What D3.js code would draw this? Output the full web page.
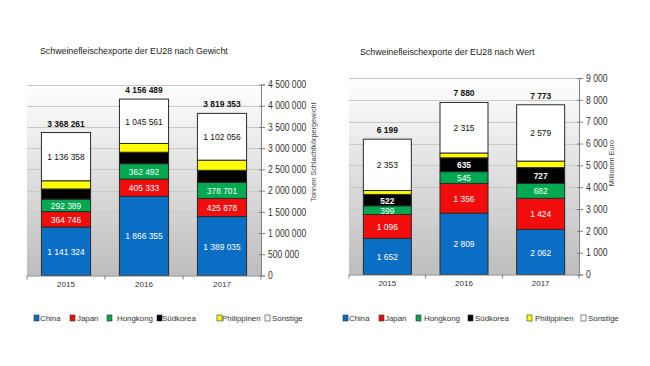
<!DOCTYPE html>
<html>
<head>
<meta charset="utf-8">
<script src="https://cdn.jsdelivr.net/npm/d3@7"></script>
<style>
  html, body { margin: 0; padding: 0; background: #ffffff; }
  svg { display: block; }
</style>
</head>
<body>
<svg id="chart" width="650" height="366"></svg>
<script>
// ---------- DATA ----------
const years = ["2015", "2016", "2017"];
const seriesNames = ["China", "Japan", "Hongkong", "Südkorea", "Philippinen", "Sonstige"];
const seriesColors = ["#0a6ec4", "#f20d0d", "#00a84f", "#000000", "#ffff00", "#ffffff"];

// Weight (Tonnen Schlachtkörpergewicht)
const weightChina = [1141324, 1866355, 1389035];
const weightJapan = [364746, 405333, 425878];
const weightHongkong = [292389, 362492, 378701];
const weightSuedkorea = [240000, 270000, 285000];
const weightPhilippinen = [193444, 206748, 238683];
const weightSonstige = [1136358, 1045561, 1102056];
const weightTotals = [3368261, 4156489, 3819353];
const weightTicks = [0, 500000, 1000000, 1500000, 2000000, 2500000, 3000000, 3500000, 4000000, 4500000];

// Value (Millionen Euro)
const valueChina = [1652, 2809, 2062];
const valueJapan = [1096, 1356, 1424];
const valueHongkong = [399, 545, 682];
const valueSuedkorea = [522, 635, 727];
const valuePhilippinen = [177, 220, 299];
const valueSonstige = [2353, 2315, 2579];
const valueTotals = [6199, 7880, 7773];
const valueTicks = [0, 1000, 2000, 3000, 4000, 5000, 6000, 7000, 8000, 9000];

// ---------- HELPERS ----------
const loc = d3.formatLocale({ decimal: ",", thousands: "\u2009", grouping: [3], currency: ["", " €"] });
const fmt = v => loc.format(",")(v).replace(/\u2009/g, " ");

const svg = d3.select("#chart");
const defs = svg.append("defs");
const grad = defs.append("linearGradient").attr("id", "bg").attr("x1", 0).attr("y1", 0).attr("x2", 0).attr("y2", 1);
grad.append("stop").attr("offset", "0%").attr("stop-color", "#ffffff");
grad.append("stop").attr("offset", "100%").attr("stop-color", "#bdbdbd");

const textFont = "'Liberation Sans', Arial, sans-serif";
const SX = 0.86; // horizontal condensing to mimic a narrow (Calibri-like) face

function drawChart(cfg) {
  const g = svg.append("g");
  const x = d3.scaleBand().domain(years).range([cfg.x0, cfg.x1]).paddingInner(cfg.padIn).paddingOuter(cfg.padIn / 2);
  const y = d3.scaleLinear().domain([0, cfg.ticks[cfg.ticks.length - 1]]).range([cfg.yBottom, cfg.yTop]);

  // title
  g.append("text").attr("x", cfg.titleX).attr("y", cfg.titleY)
    .attr("font-family", textFont).attr("font-size", 8.8).attr("fill", "#222")
    .text(cfg.title);

  // plot background
  g.append("rect").attr("x", cfg.x0).attr("y", y.range()[1])
    .attr("width", cfg.x1 - cfg.x0).attr("height", y.range()[0] - y.range()[1])
    .attr("fill", "url(#bg)");

  // gridlines
  g.append("g").selectAll("line").data(cfg.ticks.filter(t => t > 0)).join("line")
    .attr("x1", cfg.x0).attr("x2", cfg.x1)
    .attr("y1", d => Math.round(y(d)) + 0.5).attr("y2", d => Math.round(y(d)) + 0.5)
    .attr("stroke", "#c8c8c8").attr("stroke-width", 1);

  // stacked data
  const rows = years.map((yr, i) => {
    const r = { year: yr };
    seriesNames.forEach((s, k) => r[s] = cfg.series[k][i]);
    return r;
  });
  const stack = d3.stack().keys(seriesNames)(rows);

  const layers = g.append("g").selectAll("g").data(stack).join("g")
    .attr("fill", (d, k) => seriesColors[k]);
  layers.selectAll("rect").data(d => d).join("rect")
    .attr("x", d => x(d.data.year))
    .attr("width", x.bandwidth())
    .attr("y", d => y(d[1]))
    .attr("height", d => y(d[0]) - y(d[1]))
    .attr("stroke", "#2a2a2a").attr("stroke-width", 1);

  // segment labels
  stack.forEach((layer, k) => {
    if (!cfg.labelSeries.includes(seriesNames[k])) return;
    g.append("g").selectAll("text").data(layer).join("text")
      .attr("transform", d => `translate(${x(d.data.year) + x.bandwidth() / 2},${(y(d[0]) + y(d[1])) / 2}) scale(${SX},1)`)
      .attr("dy", "0.36em")
      .attr("text-anchor", "middle")
      .attr("font-family", textFont).attr("font-size", 9.8)
      .attr("font-weight", seriesNames[k] === "Südkorea" ? "bold" : "normal")
      .attr("fill", seriesNames[k] === "Sonstige" ? "#111" : "#ffffff")
      .text((d, i) => fmt(cfg.series[k][i]));
  });

  // totals
  g.append("g").selectAll("text").data(years).join("text")
    .attr("transform", (d, i) => `translate(${x(d) + x.bandwidth() / 2},${y(cfg.totals[i]) - 6}) scale(${SX},1)`)
    .attr("text-anchor", "middle")
    .attr("font-family", textFont).attr("font-size", 9.8).attr("font-weight", "bold")
    .attr("fill", "#111")
    .text((d, i) => fmt(cfg.totals[i]));

  // x axis
  const xa = g.append("g").attr("transform", `translate(0,${cfg.yBottom})`);
  xa.append("line").attr("x1", cfg.x0).attr("x2", cfg.x1).attr("y1", 0.5).attr("y2", 0.5).attr("stroke", "#808080");
  const bounds = years.map(d => x(d) - x.step() * x.paddingInner() / 2);
  bounds.push(cfg.x1);
  xa.selectAll("line.t").data(bounds).join("line").attr("class", "t")
    .attr("x1", d => d).attr("x2", d => d).attr("y1", 0).attr("y2", 4).attr("stroke", "#808080");
  xa.selectAll("text").data(years).join("text")
    .attr("x", d => x(d) + x.bandwidth() / 2).attr("y", 11)
    .attr("text-anchor", "middle").attr("font-family", textFont).attr("font-size", 8).attr("fill", "#333")
    .text(d => d);

  // y axis (right)
  const ya = g.append("g").attr("transform", `translate(${cfg.x1},0)`)
    .call(d3.axisRight(y).tickValues(cfg.ticks).tickSize(4).tickPadding(3).tickFormat(fmt));
  ya.select(".domain").attr("stroke", "#808080");
  ya.selectAll(".tick line").attr("stroke", "#808080").attr("x1", -2);
  ya.selectAll(".tick text")
    .attr("x", null)
    .attr("transform", `translate(7,0) scale(${SX},1)`)
    .attr("font-family", textFont).attr("font-size", 10).attr("fill", "#333");

  // y axis title
  g.append("text")
    .attr("transform", `translate(${cfg.axisTitleX},${cfg.axisTitleY}) rotate(-90)`)
    .attr("text-anchor", "middle").attr("font-family", textFont).attr("font-size", 7.3).attr("fill", "#444")
    .text(cfg.axisTitle);

  // legend
  const lg = g.append("g");
  seriesNames.forEach((s, k) => {
    lg.append("rect").attr("x", cfg.legendSq[k]).attr("y", 315).attr("width", 5).attr("height", 6)
      .attr("fill", seriesColors[k]).attr("stroke", "#333").attr("stroke-width", 0.6);
    lg.append("text").attr("x", cfg.legendTx[k]).attr("y", 321)
      .attr("font-family", textFont).attr("font-size", 7.9).attr("fill", "#333").text(s);
  });
}

drawChart({
  title: "Schweinefleischexporte der EU28 nach Gewicht",
  titleX: 40, titleY: 54,
  x0: 27, x1: 261, padIn: 0.37,
  yBottom: 275.5, yTop: 84.5,
  ticks: weightTicks,
  series: [weightChina, weightJapan, weightHongkong, weightSuedkorea, weightPhilippinen, weightSonstige],
  totals: weightTotals,
  labelSeries: ["China", "Japan", "Hongkong", "Sonstige"],
  axisTitle: "Tonnen Schlachtkörpergewicht",
  axisTitleX: 316, axisTitleY: 152,
  legendSq: [34, 70, 107, 157, 217, 265],
  legendTx: [40, 77, 117, 162, 222, 272]
});

drawChart({
  title: "Schweinefleischexporte der EU28 nach Wert",
  titleX: 360, titleY: 55,
  x0: 349, x1: 579, padIn: 0.374,
  yBottom: 274.5, yTop: 78,
  ticks: valueTicks,
  series: [valueChina, valueJapan, valueHongkong, valueSuedkorea, valuePhilippinen, valueSonstige],
  totals: valueTotals,
  labelSeries: ["China", "Japan", "Hongkong", "Südkorea", "Sonstige"],
  axisTitle: "Millionen Euro",
  axisTitleX: 614, axisTitleY: 163,
  legendSq: [343, 379, 416, 468, 527, 581],
  legendTx: [349, 385, 424, 475, 535, 588]
});
</script>
</body>
</html>
